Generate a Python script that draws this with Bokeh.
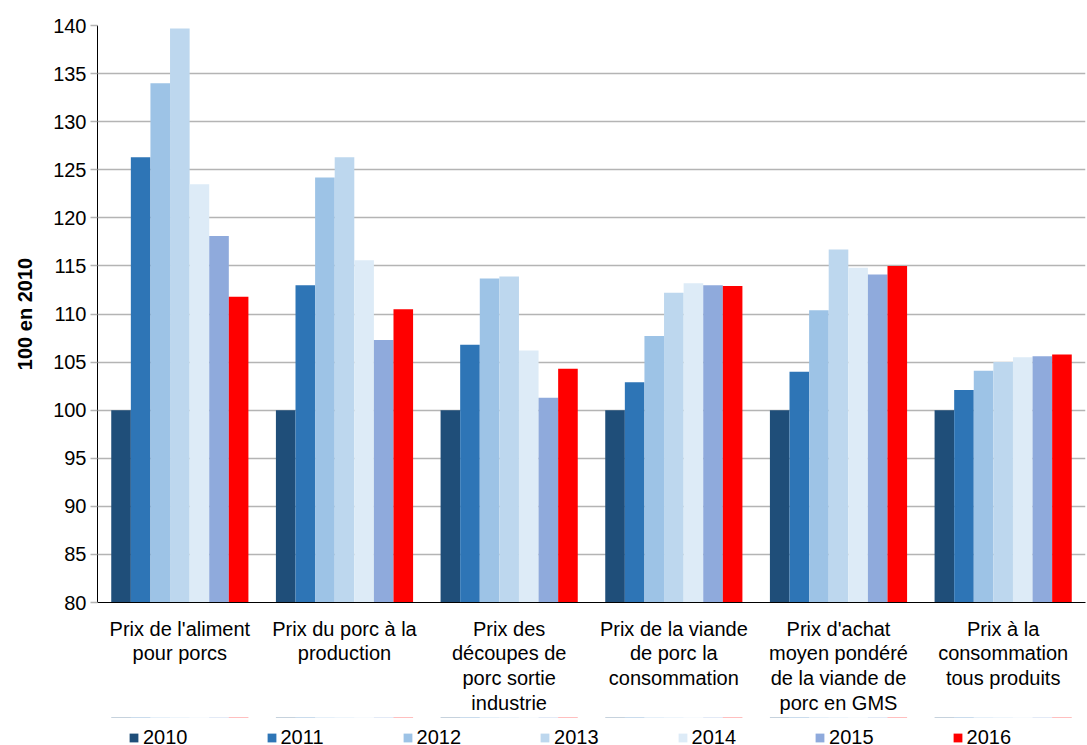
from bokeh.plotting import figure
from bokeh.layouts import column
from bokeh.models import ColumnDataSource, FactorRange, Legend, LegendItem, FixedTicker, Range1d
from bokeh.transform import dodge
from bokeh.embed import file_html
from bokeh.resources import INLINE

# Price indices, base 100 in 2010
categories = [
    "Prix de l'aliment\npour porcs",
    "Prix du porc à la\nproduction",
    "Prix des\ndécoupes de\nporc sortie\nindustrie",
    "Prix de la viande\nde porc la\nconsommation",
    "Prix d'achat\nmoyen pondéré\nde la viande de\nporc en GMS",
    "Prix à la\nconsommation\ntous produits",
]

years = ["2010", "2011", "2012", "2013", "2014", "2015", "2016"]

v2010 = [100.0, 100.0, 100.0, 100.0, 100.0, 100.0]
v2011 = [126.3, 113.0, 106.8, 102.9, 104.0, 102.1]
v2012 = [134.0, 124.2, 113.7, 107.7, 110.4, 104.1]
v2013 = [139.7, 126.3, 113.9, 112.2, 116.7, 105.0]
v2014 = [123.5, 115.6, 106.2, 113.2, 114.8, 105.5]
v2015 = [118.1, 107.3, 101.3, 113.0, 114.1, 105.6]
v2016 = [111.8, 110.5, 104.3, 112.9, 115.0, 105.8]

colors = ["#1F4E79", "#2E75B6", "#9DC3E6", "#BDD7EE", "#DDEBF7", "#8FAADC", "#FF0000"]

series = [v2010, v2011, v2012, v2013, v2014, v2015, v2016]

data = {"cat": categories}
for y, vals in zip(years, series):
    data[y] = vals
source = ColumnDataSource(data)

FONT = "Liberation Sans"
FS = "20px"

p = figure(
    x_range=FactorRange(*categories, range_padding=0),
    y_range=(80, 140),
    frame_width=988,
    frame_height=577,
    output_backend="svg",
    toolbar_location=None,
    min_border_left=97,
    min_border_right=2,
    min_border_top=25,
    min_border_bottom=113,
)
p.outline_line_color = None
p.background_fill_color = "white"

bar_w = 0.119
for i, (y, c) in enumerate(zip(years, colors)):
    p.vbar(
        x=dodge("cat", (i - 3) * bar_w, range=p.x_range),
        top=y,
        bottom=80,
        width=bar_w,
        source=source,
        fill_color=c,
        line_color=None,
    )

# Axes
p.yaxis.ticker = FixedTicker(ticks=list(range(80, 141, 5)))
p.yaxis.axis_label = "100 en 2010"
p.yaxis.axis_label_text_font = FONT
p.yaxis.axis_label_text_font_style = "bold"
p.yaxis.axis_label_text_font_size = FS
p.yaxis.axis_label_text_color = "black"
p.yaxis.axis_label_standoff = 14
p.yaxis.major_label_text_font = FONT
p.yaxis.major_label_text_font_size = FS
p.yaxis.major_label_text_color = "black"
p.yaxis.axis_line_color = "black"
p.yaxis.major_tick_line_color = "#b4b4b4"
p.yaxis.major_tick_line_width = 1.5
p.yaxis.major_tick_out = 7
p.yaxis.major_tick_in = 0
p.yaxis.minor_tick_line_color = None
p.yaxis.major_label_standoff = 4

p.xaxis.major_label_text_font = FONT
p.xaxis.major_label_text_font_size = FS
p.xaxis.major_label_text_color = "black"
p.xaxis.major_label_text_line_height = 1.13
p.xaxis.major_label_standoff = 15
p.xaxis.major_tick_line_color = None
p.xaxis.major_tick_out = 0
p.xaxis.major_tick_in = 0
p.xaxis.axis_line_color = "black"

p.xgrid.grid_line_color = None
p.ygrid.grid_line_color = "#b4b4b4"
p.ygrid.grid_line_width = 1.5

# Legend strip under the chart; its bars share the x range but sit
# outside the strip's y range, so only the legend swatches show
lf = figure(
    width=1087,
    height=30,
    x_range=p.x_range,
    y_range=Range1d(0, 1),
    output_backend="svg",
    toolbar_location=None,
    x_axis_location=None,
    y_axis_location=None,
    min_border=0,
)
lf.outline_line_color = None
lf.grid.visible = False

items = []
for i, (y, c) in enumerate(zip(years, colors)):
    r = lf.vbar(
        x=dodge("cat", (i - 3) * bar_w, range=lf.x_range),
        top=y,
        bottom=80,
        width=bar_w,
        source=source,
        fill_color=c,
        line_color=None,
    )
    items.append(LegendItem(label=y, renderers=[r]))

legend = Legend(
    items=items,
    orientation="horizontal",
    location=(31, -2),
    glyph_width=11,
    glyph_height=11,
    label_standoff=4,
    spacing=78,
    padding=0,
    margin=0,
    label_text_font=FONT,
    label_text_font_size=FS,
    label_text_color="black",
    border_line_color=None,
    background_fill_alpha=0,
)
lf.add_layout(legend, "center")

layout = column(p, lf, spacing=0)

open("out.html", "w").write(file_html(layout, INLINE))
